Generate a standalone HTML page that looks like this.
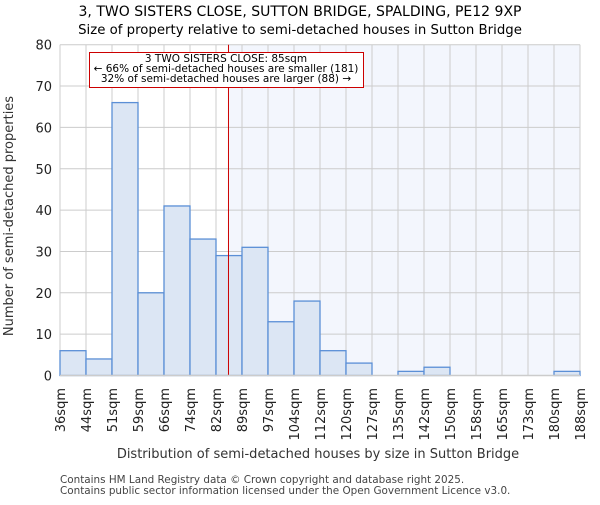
<!DOCTYPE html>
<html><head><meta charset="utf-8"><style>body{margin:0;background:#fff}svg{font-family:"DejaVu Sans","Liberation Sans",sans-serif}</style></head>
<body>
<svg id="chart" width="600" height="500" xmlns="http://www.w3.org/2000/svg">
<text x="300" y="16" text-anchor="middle" font-size="14">3, TWO SISTERS CLOSE, SUTTON BRIDGE, SPALDING, PE12 9XP</text>
<text x="300" y="34" text-anchor="middle" font-size="13.3">Size of property relative to semi-detached houses in Sutton Bridge</text>
<g id="grid"></g><g id="bars"></g><g id="ticks"></g>
<text transform="translate(13,216) rotate(-90)" text-anchor="middle" font-size="13" fill="#333">Number of semi-detached properties</text>
<text x="318" y="458" text-anchor="middle" font-size="13" fill="#333">Distribution of semi-detached houses by size in Sutton Bridge</text>
<text x="60" y="483" font-size="10.4" fill="#444">Contains HM Land Registry data © Crown copyright and database right 2025.</text>
<text x="60" y="494" font-size="10.4" fill="#444">Contains public sector information licensed under the Open Government Licence v3.0.</text>
</svg>
<script>
const categories=["36sqm","44sqm","51sqm","59sqm","66sqm","74sqm","82sqm","89sqm","97sqm","104sqm","112sqm","120sqm","127sqm","135sqm","142sqm","150sqm","158sqm","165sqm","173sqm","180sqm","188sqm"];
const counts=[6,4,66,20,41,33,29,31,13,18,6,3,0,1,2,0,0,0,0,1];
const yTicks=[0,10,20,30,40,50,60,70,80];
const markerBin=6.48;
const NS="http://www.w3.org/2000/svg";
const L=60,R=580,T=44.7,B=375.5,yMax=80;
const x=i=>L+i*(R-L)/counts.length;
const y=v=>B-v/yMax*(B-T);
function mk(tag,attrs,parent){const e=document.createElementNS(NS,tag);for(const k in attrs)e.setAttribute(k,attrs[k]);parent.appendChild(e);return e;}
const grid=document.getElementById('grid'),bars=document.getElementById('bars'),ticks=document.getElementById('ticks');
const mx=x(markerBin);
const sh=mk('rect',{x:mx,y:T,width:R-mx,height:B-T,fill:'#f3f6fd'},grid);


yTicks.forEach(v=>{
 const l=mk('line',{x1:L,x2:R,y1:y(v),y2:y(v),stroke:'#ccc','stroke-width':1},grid);
 
 
 const t=mk('text',{x:L-8,y:y(v)+5,'text-anchor':'end','font-size':13,fill:'#222'},ticks);
 t.textContent=v;
 
 
});
categories.forEach((c,i)=>{
 const l=mk('line',{x1:x(i),x2:x(i),y1:T,y2:B,stroke:'#ccc','stroke-width':1},grid);
 
 
 const t=mk('text',{transform:`translate(${x(i)+5},388) rotate(-90)`,'text-anchor':'end','font-size':13,fill:'#222'},ticks);
 t.textContent=c;
 
 
});
counts.forEach((v,i)=>{
 if(v<=0)return;
 const r=mk('rect',{x:x(i),y:y(v),width:x(i+1)-x(i),height:B-y(v),fill:'#dce6f4',stroke:'#5b8fd6','stroke-width':1.3},bars);
 
 
});
const ax=mk('line',{x1:L,x2:R,y1:B,y2:B,stroke:'#ccc','stroke-width':1.5},ticks);


const ml=mk('line',{x1:mx,x2:mx,y1:T,y2:B,stroke:'#cc0000','stroke-width':1},bars);


const box=mk('rect',{x:89.5,y:52.5,width:274,height:35,fill:'#fff',stroke:'#cc0000','stroke-width':1},bars);


["3 TWO SISTERS CLOSE: 85sqm","← 66% of semi-detached houses are smaller (181)","32% of semi-detached houses are larger (88) →"].forEach((s,k)=>{
 const t=mk('text',{x:226,y:62+k*10,'text-anchor':'middle','font-size':10.5,fill:'#000'},bars);
 t.textContent=s;
 
 
});
</script>
</body></html>
